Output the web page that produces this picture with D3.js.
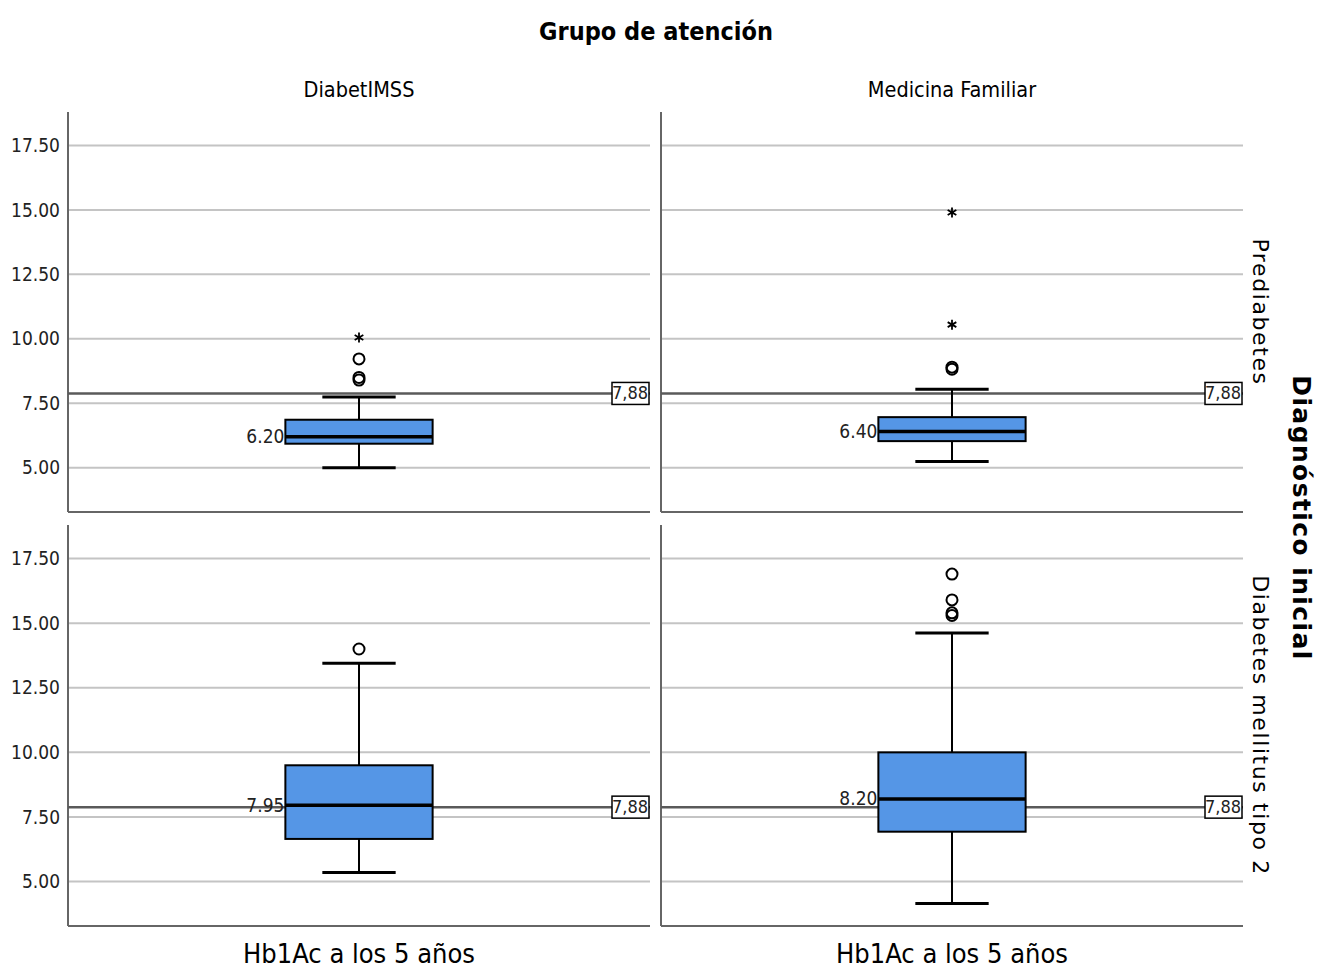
<!DOCTYPE html>
<html>
<head>
<meta charset="utf-8">
<script src="https://cdn.jsdelivr.net/npm/d3@7"></script>
<style>
  html, body { margin: 0; padding: 0; background: #fff; }
  svg text { font-family: "DejaVu Sans Condensed", "Liberation Sans Narrow", sans-serif; }
</style>
</head>
<body>
<svg id="chart" width="1321" height="970"></svg>
<script>
// Facets
const groups = ["DiabetIMSS", "Medicina Familiar"];
const diagnoses = ["Prediabetes", "Diabetes mellitus tipo 2"];

// Box statistics, one entry per panel, ordered [row][col]
const whiskerLow  = [[5.00, 5.24], [5.35, 4.15]];
const q1          = [[5.93, 6.03], [6.65, 6.93]];
const medians     = [[6.20, 6.40], [7.95, 8.20]];
const q3          = [[6.86, 6.96], [9.50, 10.00]];
const whiskerHigh = [[7.74, 8.04], [13.45, 14.62]];
const outliers    = [[[8.40, 8.50, 9.22], [8.82, 8.90]], [[14.00], [15.30, 15.40, 15.90, 16.90]]];
const extremes    = [[[10.05], [10.55, 14.90]], [[], []]];

// Reference value and axis ticks
const refValue = 7.88;
const refLabel = "7,88";
const yTicks = [5.00, 7.50, 10.00, 12.50, 15.00, 17.50];
const medianLabels = [["6.20", "6.40"], ["7.95", "8.20"]];

const svg = d3.select("#chart");

const colLeft = [68, 661], colWidth = 582;
const rowTop = [112, 525], rowBottom = [512, 926];

// Titles
svg.append("text").attr("x", 656).attr("y", 40).attr("text-anchor", "middle")
  .attr("font-size", 25).attr("font-weight", "bold").text("Grupo de atención");

groups.forEach((g, c) => {
  svg.append("text").attr("x", colLeft[c] + colWidth / 2).attr("y", 97)
    .attr("text-anchor", "middle").attr("font-size", 21.5).text(g);
  svg.append("text").attr("x", colLeft[c] + colWidth / 2).attr("y", 963)
    .attr("text-anchor", "middle").attr("font-size", 27).text("Hb1Ac a los 5 años");
});

diagnoses.forEach((d, r) => {
  const cy = (rowTop[r] + rowBottom[r]) / 2;
  svg.append("text").attr("transform", `translate(1253,${cy}) rotate(90)`)
    .attr("text-anchor", "middle").attr("font-size", 22).attr("letter-spacing", 1.6)
    .style("font-family", "'DejaVu Sans', sans-serif").text(d);
});
svg.append("text").attr("transform", "translate(1293,518) rotate(90)")
  .attr("text-anchor", "middle").attr("font-size", 25).attr("font-weight", "bold")
  .attr("letter-spacing", 1.4)
  .style("font-family", "'DejaVu Sans', sans-serif").text("Diagnóstico inicial");

diagnoses.forEach((dName, r) => {
  const y = d3.scaleLinear().domain([3.28, 18.8]).range([rowBottom[r], rowTop[r]]);

  groups.forEach((gName, c) => {
    const x = d3.scaleBand().domain([gName]).range([colLeft[c], colLeft[c] + colWidth]).paddingInner(0).paddingOuter(0);
    const cx = x(gName) + x.bandwidth() / 2;
    const boxW = x.bandwidth() * 0.253;
    const capW = x.bandwidth() * 0.126;
    const p = svg.append("g");

    // Gridlines
    p.selectAll("line.grid").data(yTicks).join("line")
      .attr("x1", colLeft[c]).attr("x2", colLeft[c] + colWidth)
      .attr("y1", d => y(d)).attr("y2", d => y(d))
      .attr("stroke", "#c4c4c4").attr("stroke-width", 2);

    // Y tick labels on the left column only
    if (c === 0) {
      const axis = d3.axisLeft(y).tickValues(yTicks).tickFormat(d3.format(".2f")).tickSize(0).tickPadding(8);
      const ag = svg.append("g").attr("transform", `translate(${colLeft[c]},0)`).call(axis);
      ag.select(".domain").remove();
      ag.selectAll("text").attr("font-size", 19).attr("fill", "#222")
        .style("font-family", "'DejaVu Sans Condensed', sans-serif");
    }

    // Panel frame: left axis and bottom baseline
    p.append("line").attr("x1", colLeft[c]).attr("x2", colLeft[c])
      .attr("y1", rowTop[r]).attr("y2", rowBottom[r]).attr("stroke", "#666").attr("stroke-width", 2);
    p.append("line").attr("x1", colLeft[c]).attr("x2", colLeft[c] + colWidth)
      .attr("y1", rowBottom[r]).attr("y2", rowBottom[r]).attr("stroke", "#666").attr("stroke-width", 2);

    // Reference line
    p.append("line").attr("x1", colLeft[c]).attr("x2", colLeft[c] + colWidth)
      .attr("y1", y(refValue)).attr("y2", y(refValue)).attr("stroke", "#5a5a5a").attr("stroke-width", 2.5);

    // Whiskers
    p.append("line").attr("x1", cx).attr("x2", cx)
      .attr("y1", y(whiskerLow[r][c])).attr("y2", y(q1[r][c])).attr("stroke", "#000").attr("stroke-width", 2);
    p.append("line").attr("x1", cx).attr("x2", cx)
      .attr("y1", y(q3[r][c])).attr("y2", y(whiskerHigh[r][c])).attr("stroke", "#000").attr("stroke-width", 2);
    [whiskerLow[r][c], whiskerHigh[r][c]].forEach(v => {
      p.append("line").attr("x1", cx - capW / 2).attr("x2", cx + capW / 2)
        .attr("y1", y(v)).attr("y2", y(v)).attr("stroke", "#000").attr("stroke-width", 3);
    });

    // Box
    p.append("rect").attr("x", cx - boxW / 2).attr("width", boxW)
      .attr("y", y(q3[r][c])).attr("height", y(q1[r][c]) - y(q3[r][c]))
      .attr("fill", "#5596e6").attr("stroke", "#000").attr("stroke-width", 2);

    // Median
    p.append("line").attr("x1", cx - boxW / 2).attr("x2", cx + boxW / 2)
      .attr("y1", y(medians[r][c])).attr("y2", y(medians[r][c])).attr("stroke", "#000").attr("stroke-width", 3.5);
    p.append("text").attr("x", cx - boxW / 2 - 1).attr("y", y(medians[r][c]) + 1)
      .attr("text-anchor", "end").attr("dominant-baseline", "middle")
      .attr("font-size", 19).attr("fill", "#222").text(medianLabels[r][c]);

    // Outliers (circles) and extremes (asterisks)
    p.selectAll("circle.out").data(outliers[r][c]).join("circle")
      .attr("cx", cx).attr("cy", d => y(d)).attr("r", 5.5)
      .attr("fill", "none").attr("stroke", "#000").attr("stroke-width", 2);
    p.selectAll("path.ext").data(extremes[r][c]).join("path")
      .attr("transform", d => `translate(${cx},${y(d)})`)
      .attr("d", d3.symbol().type(d3.symbolAsterisk).size(70))
      .attr("fill", "none").attr("stroke", "#000").attr("stroke-width", 1.8);

    // Reference value label
    const lg = p.append("g").attr("transform", `translate(${colLeft[c] + colWidth - 20},${y(refValue)})`);
    lg.append("rect").attr("x", -18).attr("y", -11).attr("width", 37).attr("height", 22)
      .attr("fill", "#fff").attr("stroke", "#000").attr("stroke-width", 1.5);
    lg.append("text").attr("x", 0).attr("y", 1).attr("text-anchor", "middle")
      .attr("dominant-baseline", "middle").attr("font-size", 18).attr("fill", "#222").text(refLabel);
  });
});
</script>
</body>
</html>
